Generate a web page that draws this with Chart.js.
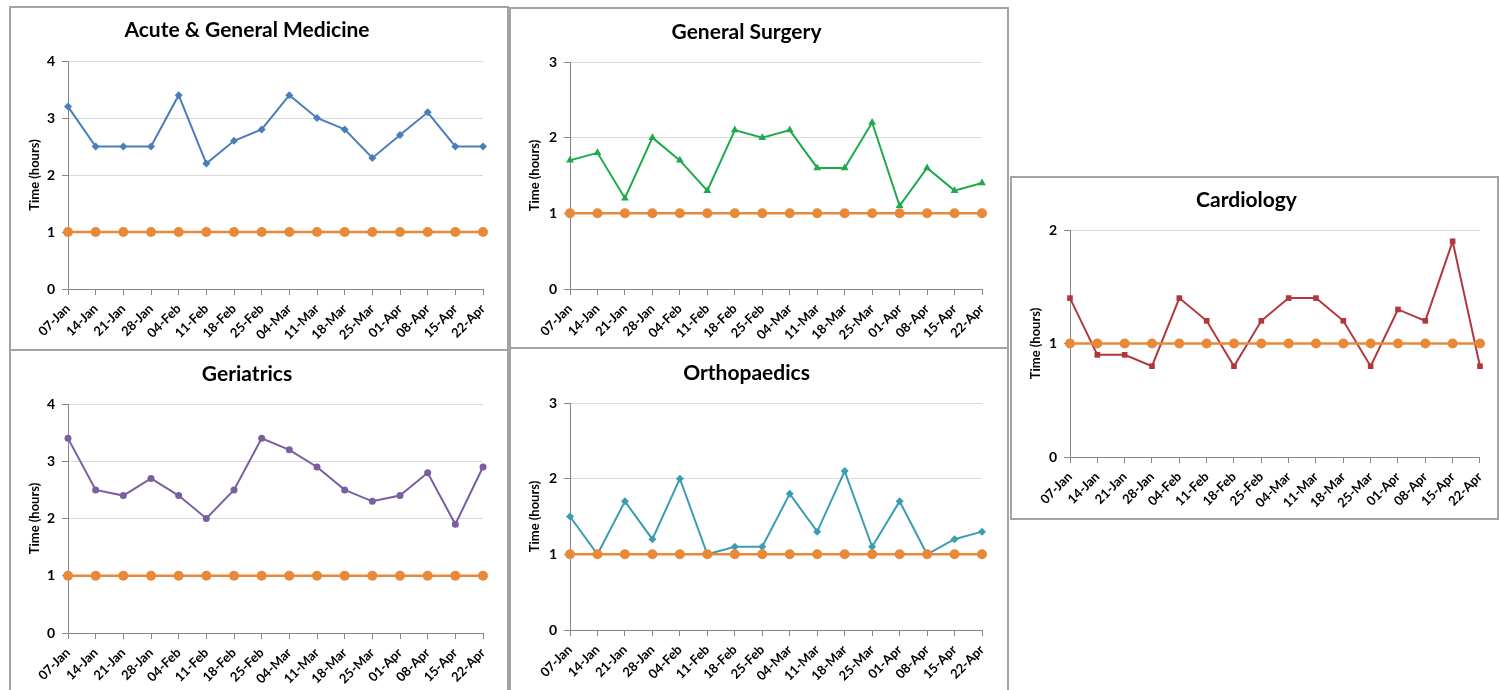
<!DOCTYPE html>
<html>
<head>
<meta charset="utf-8">
<script src="https://cdn.jsdelivr.net/npm/chart.js@4/dist/chart.umd.min.js"></script>
<style>
  html, body { margin: 0; padding: 0; background: #fff; width: 1499px; height: 690px; overflow: hidden; }
  .panel { position: absolute; box-sizing: border-box; border: 2px solid #a3a3a3; background: #fff; }
  .panel canvas { display: block; }
</style>
</head>
<body>
<div class="panel" id="p1" style="left:9px;top:6px;width:500px;height:345px"><canvas id="c1"></canvas></div>
<div class="panel" id="p2" style="left:509px;top:7px;width:500px;height:342px"><canvas id="c2"></canvas></div>
<div class="panel" id="p4" style="left:9px;top:349px;width:500px;height:345px"><canvas id="c4"></canvas></div>
<div class="panel" id="p5" style="left:509px;top:347px;width:500px;height:347px"><canvas id="c5"></canvas></div>
<div class="panel" id="p3" style="left:1010px;top:176px;width:489px;height:344px"><canvas id="c3"></canvas></div>
<script>
// ---- data ----
const weeks = ['07-Jan','14-Jan','21-Jan','28-Jan','04-Feb','11-Feb','18-Feb','25-Feb','04-Mar','11-Mar','18-Mar','25-Mar','01-Apr','08-Apr','15-Apr','22-Apr'];
const targetHours = [1,1,1,1,1,1,1,1,1,1,1,1,1,1,1,1];
const acuteMedicine = [3.2,2.5,2.5,2.5,3.4,2.2,2.6,2.8,3.4,3.0,2.8,2.3,2.7,3.1,2.5,2.5];
const generalSurgery = [1.7,1.8,1.2,2.0,1.7,1.3,2.1,2.0,2.1,1.6,1.6,2.2,1.1,1.6,1.3,1.4];
const cardiology = [1.4,0.9,0.9,0.8,1.4,1.2,0.8,1.2,1.4,1.4,1.2,0.8,1.3,1.2,1.9,0.8];
const geriatrics = [3.4,2.5,2.4,2.7,2.4,2.0,2.5,3.4,3.2,2.9,2.5,2.3,2.4,2.8,1.9,2.9];
const orthopaedics = [1.5,1.0,1.7,1.2,2.0,1.0,1.1,1.1,1.8,1.3,2.1,1.1,1.7,1.0,1.2,1.3];
const yTitle = 'Time (hours)';

const FONT = 'Lato, "Open Sans", "DejaVu Sans", sans-serif';
const ORANGE = '#E8893A';
const TITLE_SIZE = 21;
const TITLE_LH = TITLE_SIZE * 1.2;

// title centre (tc) and plot top (pt) are positions inside each canvas
const panels = [
  { canvas:'c1', title:'Acute & General Medicine', values: acuteMedicine, color:'#4A7EBB', marker:'rectRot', r:4, yMax:4, w:496, h:341, yW:57, xH:60, padR:24, tc:22, pt:53 },
  { canvas:'c2', title:'General Surgery', values: generalSurgery, color:'#1DAA4C', marker:'triangle', r:4.5, yMax:3, w:496, h:338, yW:59, xH:58, padR:25, tc:23, pt:53 },
  { canvas:'c3', title:'Cardiology', values: cardiology, color:'#B0383D', marker:'rect', r:4, yMax:2, w:485, h:340, yW:58, xH:61, padR:16, tc:22, pt:52 },
  { canvas:'c4', title:'Geriatrics', values: geriatrics, color:'#7A5FA0', marker:'circle', r:3.5, yMax:4, w:496, h:341, yW:57, xH:59, padR:24, tc:23, pt:53 },
  { canvas:'c5', title:'Orthopaedics', values: orthopaedics, color:'#3B9DB3', marker:'rectRot', r:4, yMax:3, w:496, h:343, yW:59, xH:62, padR:25, tc:24, pt:54 }
];

panels.forEach(p => {
  const cv = document.getElementById(p.canvas);
  cv.width = p.w; cv.height = p.h;
  cv.style.width = p.w + 'px'; cv.style.height = p.h + 'px';
  const tTop = p.tc - TITLE_LH / 2;
  const tBot = p.pt - tTop - TITLE_LH;
  new Chart(cv, {
    type: 'line',
    data: {
      labels: weeks,
      datasets: [
        { label: 'Target', data: targetHours, borderColor: ORANGE, backgroundColor: ORANGE, borderWidth: 2.5,
          pointStyle: 'circle', pointRadius: 5, pointBorderWidth: 0, pointBackgroundColor: ORANGE, tension: 0, order: 0 },
        { label: p.title, data: p.values, borderColor: p.color, backgroundColor: p.color, borderWidth: 2,
          pointStyle: p.marker, pointRadius: p.r, pointBorderWidth: 0, pointBackgroundColor: p.color, tension: 0, order: 1 }
      ]
    },
    options: {
      responsive: false,
      animation: false,
      devicePixelRatio: 1,
      layout: { padding: { left: 0, right: p.padR, top: 0, bottom: 0 } },
      plugins: {
        legend: { display: false },
        tooltip: { enabled: false },
        title: { display: true, text: p.title, color: '#000',
          font: { family: FONT, size: TITLE_SIZE, weight: 'bold' },
          padding: { top: tTop, bottom: tBot } }
      },
      scales: {
        x: {
          offset: false,
          grid: { display: true, drawOnChartArea: false, drawTicks: true, tickLength: 6, color: '#868686' },
          border: { display: true, color: '#868686', width: 1 },
          ticks: { autoSkip: false, minRotation: 45, maxRotation: 45, color: '#000', padding: 6,
            font: { family: FONT, size: 13, weight: 'bold' } },
          afterFit: s => { s.height = p.xH; }
        },
        y: {
          min: 0, max: p.yMax,
          grid: { color: '#d9d9d9', lineWidth: 1, drawTicks: true, tickLength: 6, tickColor: '#868686' },
          border: { display: true, color: '#868686', width: 1 },
          ticks: { stepSize: 1, color: '#000', padding: 7, font: { family: FONT, size: 14, weight: 'bold' } },
          title: { display: true, text: yTitle, color: '#000', padding: { top: 16, bottom: 0 },
            font: { family: FONT, size: 13, weight: 'bold' } },
          afterFit: s => { s.width = p.yW; }
        }
      }
    }
  });
});
</script>
</body>
</html>
